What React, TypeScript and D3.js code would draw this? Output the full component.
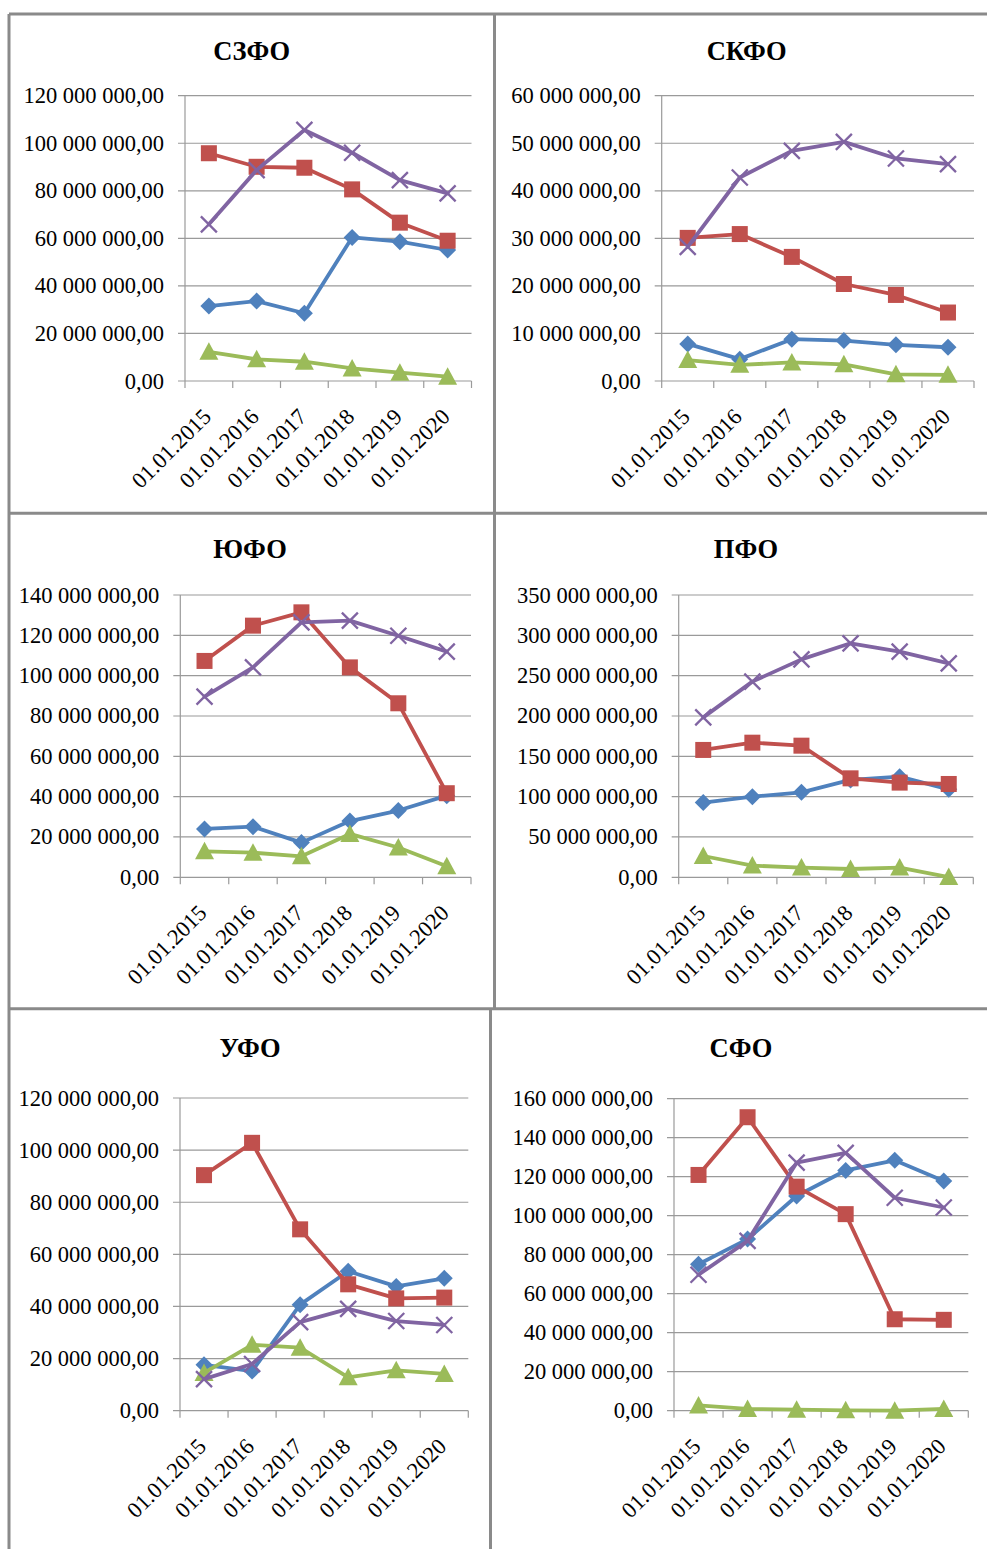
import React from "react";
import * as d3 from "d3";

const categories = ["01.01.2015", "01.01.2016", "01.01.2017", "01.01.2018", "01.01.2019", "01.01.2020"];
const districts = ["СЗФО", "СКФО", "ЮФО", "ПФО", "УФО", "СФО"];
const yMaxValues = [120000000, 60000000, 140000000, 350000000, 120000000, 160000000];
const yStepValues = [20000000, 10000000, 20000000, 50000000, 20000000, 20000000];

// series 1 (blue, diamond) per district
const blueSeries = [
  [31500000, 33600000, 28500000, 60400000, 58600000, 55100000],
  [7800000, 4600000, 8800000, 8500000, 7600000, 7100000],
  [24000000, 25100000, 17200000, 27900000, 33100000, 40500000],
  [92600000, 100000000, 105400000, 120700000, 124800000, 109100000],
  [17600000, 15200000, 40700000, 53500000, 47700000, 50800000],
  [75100000, 88000000, 110100000, 123200000, 128400000, 117800000],
];
// series 2 (red, square)
const redSeries = [
  [95800000, 90100000, 89700000, 80600000, 66600000, 59000000],
  [30100000, 30900000, 26100000, 20400000, 18100000, 14400000],
  [107300000, 124800000, 131400000, 104100000, 86300000, 41700000],
  [157900000, 166900000, 163200000, 122700000, 117400000, 115700000],
  [90400000, 102800000, 69600000, 48500000, 43100000, 43400000],
  [120900000, 150500000, 114900000, 100800000, 46900000, 46600000],
];
// series 3 (green, triangle)
const greenSeries = [
  [12300000, 9100000, 8100000, 5300000, 3500000, 1800000],
  [4400000, 3400000, 3900000, 3500000, 1400000, 1300000],
  [12900000, 12200000, 10400000, 21500000, 14800000, 5500000],
  [26400000, 14500000, 12000000, 10300000, 12000000, 300000],
  [14500000, 25300000, 24200000, 12800000, 15500000, 14100000],
  [2700000, 900000, 500000, 200000, 0, 900000],
];
// series 4 (purple, x)
const purpleSeries = [
  [65900000, 88700000, 105600000, 96000000, 84500000, 78900000],
  [28200000, 42800000, 48400000, 50300000, 46800000, 45600000],
  [89600000, 104100000, 126400000, 127300000, 119800000, 111900000],
  [198300000, 242600000, 270200000, 290100000, 279800000, 265300000],
  [12100000, 17900000, 34000000, 39100000, 34400000, 32900000],
  [69700000, 87100000, 127200000, 132200000, 109200000, 104200000],
];

const layout = [
  { left: 185, right: 471.5, top: 95.7, bottom: 381, titleX: 251.7, titleY: 51 },
  { left: 661.7, right: 974, top: 95.7, bottom: 381, titleX: 746.7, titleY: 51 },
  { left: 180.3, right: 471, top: 595, bottom: 877.3, titleX: 250, titleY: 549 },
  { left: 678.7, right: 973.3, top: 595, bottom: 877.3, titleX: 746, titleY: 549 },
  { left: 180, right: 468.3, top: 1098, bottom: 1410.7, titleX: 250, titleY: 1048 },
  { left: 674, right: 968.3, top: 1098.7, bottom: 1410.7, titleX: 741, titleY: 1048 },
];

const COLORS = { blue: "#4F81BD", red: "#C0504D", green: "#9BBB59", purple: "#8064A2" };
const FONT = "'Liberation Serif', 'Times New Roman', serif";
const GRID = "#9a9a9a";
const BORDER = "#8a8a8a";

const locale = d3.formatLocale({ decimal: ",", thousands: " ", grouping: [3], currency: ["", ""] });
const fmt = locale.format(",.2f");

function Marker({ kind, x, y, color }: { kind: string; x: number; y: number; color: string }) {
  if (kind === "diamond") {
    const s = 8.5;
    return <path d={`M${x},${y - s}L${x + s},${y}L${x},${y + s}L${x - s},${y}Z`} fill={color} />;
  }
  if (kind === "square") {
    const s = 8;
    return <rect x={x - s} y={y - s} width={2 * s} height={2 * s} fill={color} />;
  }
  if (kind === "triangle") {
    return <path d={`M${x},${y - 9.5}L${x + 9.5},${y + 8}L${x - 9.5},${y + 8}Z`} fill={color} />;
  }
  const s = 8;
  return (
    <path
      d={`M${x - s},${y - s}L${x + s},${y + s}M${x - s},${y + s}L${x + s},${y - s}`}
      stroke={color}
      strokeWidth={2.3}
      fill="none"
    />
  );
}

function Panel({ idx }: { idx: number }) {
  const L = layout[idx];
  const x = d3.scaleBand<string>().domain(categories).range([L.left, L.right]);
  const y = d3.scaleLinear().domain([0, yMaxValues[idx]]).range([L.bottom, L.top]);
  const ticks = d3.range(0, yMaxValues[idx] + 1, yStepValues[idx]);
  const cx = (c: string) => (x(c) as number) + x.bandwidth() / 2;
  const line = d3
    .line<number>()
    .x((_, i) => cx(categories[i]))
    .y((d) => y(d));
  const series = [
    { data: blueSeries[idx], color: COLORS.blue, kind: "diamond" },
    { data: redSeries[idx], color: COLORS.red, kind: "square" },
    { data: greenSeries[idx], color: COLORS.green, kind: "triangle" },
    { data: purpleSeries[idx], color: COLORS.purple, kind: "x" },
  ];
  const edges = categories.map((c) => x(c) as number).concat([L.right]);
  return (
    <g>
      <text
        x={L.titleX}
        y={L.titleY}
        textAnchor="middle"
        dominantBaseline="central"
        fontFamily={FONT}
        fontWeight="bold"
        fontSize={26.5}
        fill="#000"
      >
        {districts[idx]}
      </text>
      {ticks.map((t) => (
        <g key={t}>
          <line x1={L.left - 7} x2={L.right} y1={y(t)} y2={y(t)} stroke={GRID} strokeWidth={1.2} />
          <text
            x={L.left - 21}
            y={y(t)}
            textAnchor="end"
            dominantBaseline="central"
            fontFamily={FONT}
            fontSize={22.5}
            fill="#000"
          >
            {fmt(t)}
          </text>
        </g>
      ))}
      <line x1={L.left} x2={L.left} y1={L.top} y2={L.bottom} stroke={GRID} strokeWidth={1.2} />
      {edges.map((e, i) => (
        <line key={i} x1={e} x2={e} y1={L.bottom} y2={L.bottom + 7} stroke={GRID} strokeWidth={1.2} />
      ))}
      {categories.map((c) => (
        <text
          key={c}
          transform={`translate(${cx(c) + 3.5},${L.bottom + 37}) rotate(-45)`}
          textAnchor="end"
          fontFamily={FONT}
          fontSize={22.5}
          fill="#000"
        >
          {c}
        </text>
      ))}
      {series.map((s, si) => (
        <g key={si}>
          <path
            d={line(s.data) as string}
            fill="none"
            stroke={s.color}
            strokeWidth={3.8}
            strokeLinejoin="round"
            strokeLinecap="round"
          />
          {s.data.map((v, i) => (
            <Marker key={i} kind={s.kind} x={cx(categories[i])} y={y(v)} color={s.color} />
          ))}
        </g>
      ))}
    </g>
  );
}

export default function App() {
  return (
    <svg
      width={987}
      height={1549}
      style={{ position: "absolute", left: 0, top: 0, background: "#fff" }}
      xmlns="http://www.w3.org/2000/svg"
    >
      <rect x={0} y={0} width={987} height={1549} fill="#fff" />
      <g stroke={BORDER} strokeWidth={3}>
        <line x1={9} x2={987} y1={14} y2={14} />
        <line x1={9} x2={9} y1={14} y2={1549} />
        <line x1={9} x2={987} y1={513.3} y2={513.3} />
        <line x1={9} x2={987} y1={1008.7} y2={1008.7} />
        <line x1={494.5} x2={494.5} y1={14} y2={1008.7} />
        <line x1={490.5} x2={490.5} y1={1008.7} y2={1549} />
      </g>
      {districts.map((_, i) => (
        <Panel key={i} idx={i} />
      ))}
    </svg>
  );
}
